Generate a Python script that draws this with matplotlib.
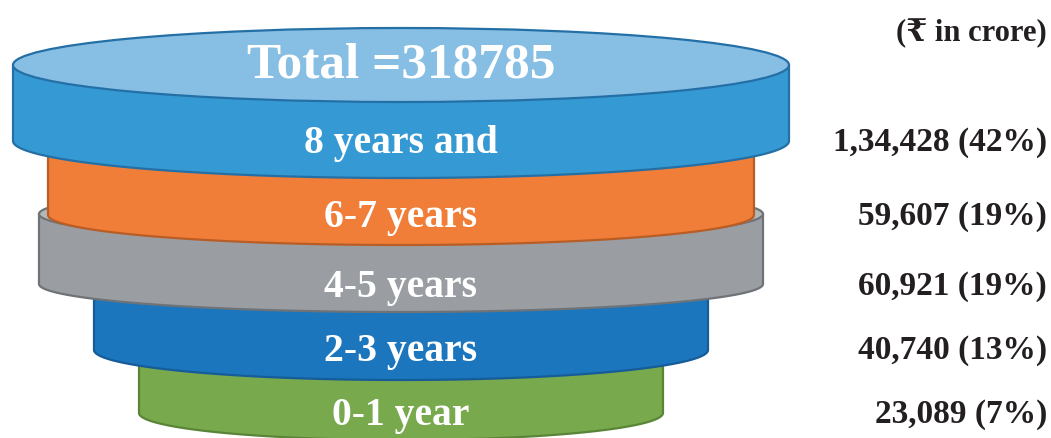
import numpy as np
import matplotlib.pyplot as plt
from matplotlib.patches import Polygon, Ellipse

# data
categorias = ['8 years and', '6-7 years', '4-5 years', '2-3 years', '0-1 year']
valores = ['1,34,428', '59,607', '60,921', '40,740', '23,089']
porcentajes = [42, 19, 19, 13, 7]
total = 318785
unidad = '(\u20b9 in crore)'

# disc layout (pixels): half width, top y, bottom y, ellipse half height
anchos = [388, 353, 362, 307, 262]
y_sup = [65, 140, 214, 280, 350]
y_inf = [141, 215, 284, 350, 413]
alto_elipse = [37, 30, 28, 30, 27]
lados = ['#3599d3', '#f07e38', '#9a9ea2', '#1c76bd', '#78a94d']
tapas = ['#87bee4', '#f29a63', '#b4b8bb', '#4b93cf', '#9bc273']
bordes = ['#2470a6', '#b95d26', '#6e7377', '#155c98', '#5a8537']
xc = 401

fig = plt.figure(figsize=(10.51, 4.38), dpi=100)
ax = fig.add_axes([0, 0, 1, 1])
ax.set_xlim(0, 1051)
ax.set_ylim(438, 0)
ax.axis('off')

fuente = ['Liberation Serif', 'DejaVu Serif']

def disco(a, yt, yb, b, lado, tapa, borde, z):
    t = np.linspace(np.pi, 0, 80)
    xs = xc + a * np.cos(t)
    curva = yb + b * np.sin(t)
    pts = [(xc - a, yt)] + list(zip(xs, curva)) + [(xc + a, yt)]
    ax.add_patch(Polygon(pts, closed=True, facecolor=lado, edgecolor=borde,
                         lw=1.6, zorder=z, joinstyle='round'))
    ax.add_patch(Ellipse((xc, yt), 2 * a, 2 * b, facecolor=tapa,
                         edgecolor=borde, lw=1.6, zorder=z + 0.5))

# draw from bottom to top so upper discs overlap
for i in reversed(range(len(categorias))):
    disco(anchos[i], y_sup[i], y_inf[i], alto_elipse[i],
          lados[i], tapas[i], bordes[i], 10 - 2 * i)

ax.text(xc, 66, f'Total ={total}', ha='center', va='center',
        color='white', fontsize=37, fontweight='bold', family=fuente, zorder=20)

y_texto = [143, 218, 287, 351, 416]
for i, cat in enumerate(categorias):
    ax.text(xc, y_texto[i], cat, ha='center', va='center', color='white',
            fontsize=28.5, fontweight='bold', family=fuente, zorder=20)
    ax.text(1047, y_texto[i] - 1, f'{valores[i]} ({porcentajes[i]}%)', ha='right',
            va='center', color='#231f20', fontsize=24, fontweight='bold',
            family=fuente, zorder=20)

ax.text(1047, 33, unidad, ha='right', va='center', color='#231f20',
        fontsize=22, fontweight='bold', family=fuente)

fig.savefig('out.png', dpi=100)
